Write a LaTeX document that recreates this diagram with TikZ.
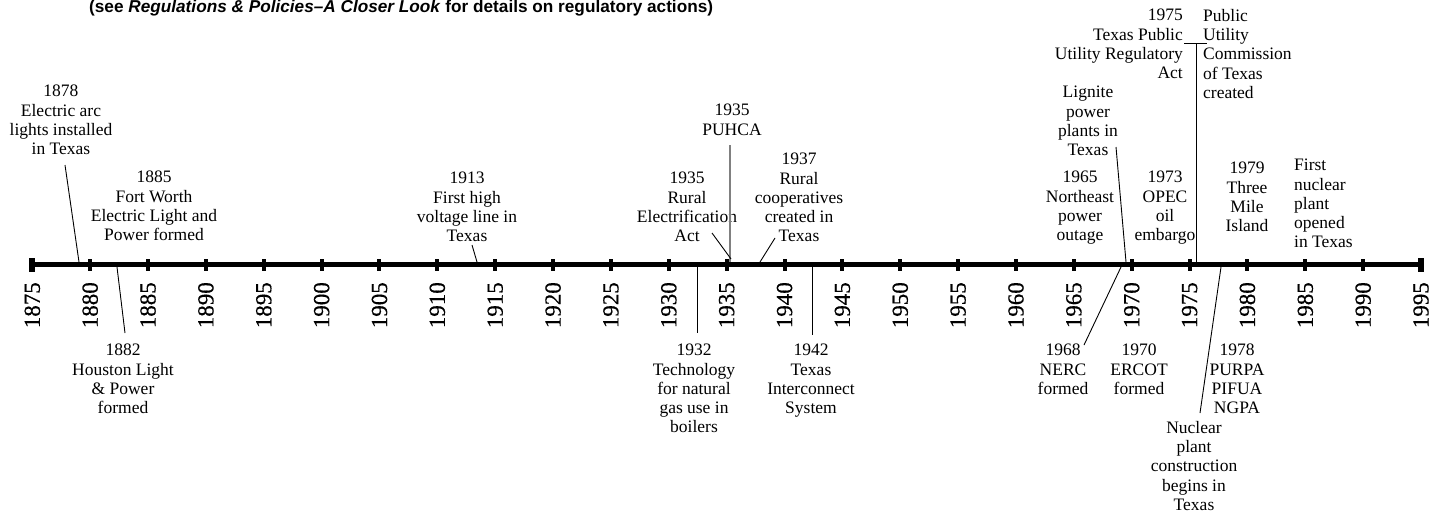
\documentclass[tikz,border=0pt]{standalone}
\usepackage{fontspec}
\setmainfont{Liberation Serif}
\newfontfamily\hdrfont{Liberation Sans}
\newfontfamily\yearfont[FakeBold=0.5]{Liberation Serif}
\begin{document}
\begin{tikzpicture}[x=1pt,y=-1pt,
  ev/.style={font=\fontsize{17.5}{19.3}\selectfont, align=center, inner sep=0pt, anchor=north},
  yr/.style={font=\yearfont\fontsize{23}{23}\selectfont, rotate=90, anchor=east, inner sep=0pt},
  conn/.style={line width=0.9pt, black},
  tickbox/.style={fill=black, draw=none}]
\useasboundingbox (0,0) rectangle (1434,512);
% header
\node[anchor=base west, inner sep=0pt, font=\hdrfont\bfseries\fontsize{17.2}{17.2}\selectfont] (hdr) at (89,12.5)
  {(see \textit{Regulations \& Policies\textendash A Closer Look} for details on regulatory actions)};
% axis
\coordinate (axL) at (32.3,264.5);
\coordinate (axR) at (1421,264.5);
\draw[line width=5pt] (axL) -- (axR);
\foreach \yy in {1875,1880,...,1995}{
  \pgfmathsetmacro\xx{32.3+(\yy-1875)*11.5725}
  \fill[tickbox] (\xx-2,258.5) rectangle (\xx+2,270.5);
  \node[yr] (y\yy) at (\xx,282) {\yy};
}
\fill[tickbox] (29.3,257.5) rectangle (35.3,271.5);
\fill[tickbox] (1418,257.5) rectangle (1424,271.5);
% events above
\node[ev] (e1878) at (61,85) {1878\\Electric arc\\lights installed\\in Texas};
\node[ev] (e1885) at (154,171) {1885\\Fort Worth\\Electric Light and\\Power formed};
\node[ev] (e1913) at (467,172) {1913\\First high\\voltage line in\\Texas};
\node[ev] (e1935p) at (732,104) {1935\\PUHCA};
\node[ev] (e1935r) at (687,172) {1935\\Rural\\Electrification\\Act};
\node[ev] (e1937) at (799,153) {1937\\Rural\\cooperatives\\created in\\Texas};
\node[ev] (eLig) at (1088,86) {Lignite\\power\\plants in\\Texas};
\node[ev] (e1965) at (1080,171) {1965\\Northeast\\power\\outage};
\node[ev] (e1973) at (1165,171) {1973\\OPEC\\oil\\embargo};
\node[ev, anchor=north east, align=right] (e1975a) at (1183,9) {1975\\Texas Public\\Utility Regulatory\\Act};
\node[ev, anchor=north west, align=left] (e1975b) at (1203,9) {Public\\Utility\\Commission\\of Texas\\created};
\node[ev] (e1979) at (1247,162) {1979\\Three\\Mile\\Island};
\node[ev, anchor=north west, align=left] (eFirst) at (1294,159) {First\\nuclear\\plant\\opened\\in Texas};
% events below
\node[ev] (e1882) at (123,344) {1882\\Houston Light\\\& Power\\formed};
\node[ev] (e1932) at (694,344) {1932\\Technology\\for natural\\gas use in\\boilers};
\node[ev] (e1942) at (811,344) {1942\\Texas\\Interconnect\\System};
\node[ev] (e1968) at (1063,344) {1968\\NERC\\formed};
\node[ev] (e1970) at (1139,344) {1970\\ERCOT\\formed};
\node[ev] (e1978) at (1237,344) {1978\\PURPA\\PIFUA\\NGPA};
\node[ev] (eNuc) at (1194,421) {Nuclear\\plant\\construction\\begins in\\Texas};
% connector end points
\coordinate (c1878a) at (65,165);   \coordinate (c1878b) at (79,262);
\coordinate (c1882a) at (117,267);  \coordinate (c1882b) at (125,333);
\coordinate (c1913a) at (472,245);  \coordinate (c1913b) at (477,262);
\coordinate (c1932a) at (697,267);  \coordinate (c1932b) at (697,333);
\coordinate (c1935pa) at (730,145); \coordinate (c1935pb) at (730,262);
\coordinate (c1935ra) at (712,233); \coordinate (c1935rb) at (731,259);
\coordinate (c1937a) at (775,238);  \coordinate (c1937b) at (760,262);
\coordinate (c1942a) at (812,267);  \coordinate (c1942b) at (812,335);
\coordinate (cLiga) at (1116,147);  \coordinate (cLigb) at (1126,262);
\coordinate (c1968a) at (1084,345); \coordinate (c1968b) at (1121,267);
\coordinate (c1975l) at (1184,43);  \coordinate (c1975r) at (1207,43);
\coordinate (c1975t) at (1196,43);  \coordinate (c1975b) at (1196,262);
\coordinate (cNuca) at (1200,413);  \coordinate (cNucb) at (1221,267);
% connectors
\draw[conn] (c1878a) -- (c1878b);
\draw[conn] (c1882a) -- (c1882b);
\draw[conn] (c1913a) -- (c1913b);
\draw[conn] (c1932a) -- (c1932b);
\draw[line width=1.4pt, gray] (c1935pa) -- (c1935pb);
\draw[conn] (c1935ra) -- (c1935rb);
\draw[conn] (c1937a) -- (c1937b);
\draw[conn] (c1942a) -- (c1942b);
\draw[conn] (cLiga) -- (cLigb);
\draw[conn] (c1968a) -- (c1968b);
\draw[conn] (c1975l) -- (c1975r);
\draw[conn] (c1975t) -- (c1975b);
\draw[conn] (cNuca) -- (cNucb);
\end{tikzpicture}
\end{document}
